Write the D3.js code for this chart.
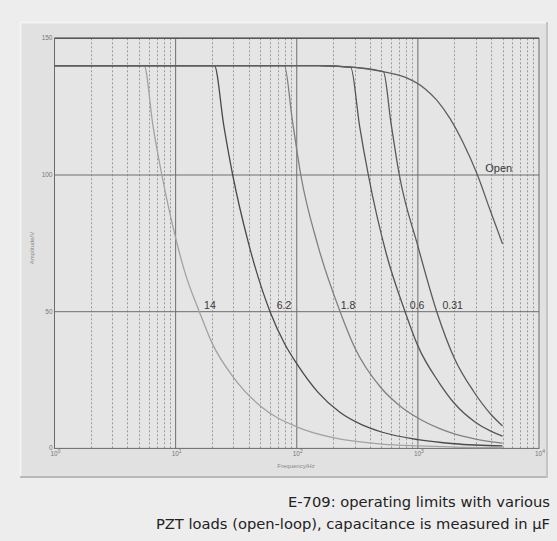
<!DOCTYPE html>
<html>
<head>
<meta charset="utf-8">
<script src="https://cdn.jsdelivr.net/npm/d3@7"></script>
<style>
  html, body { margin:0; padding:0; background:#ededed; }
  svg { display:block; font-family:"Liberation Sans", Arial, sans-serif; }
</style>
</head>
<body>
<script>
// curves: [frequency Hz, amplitude V]
var curveNames = ["14", "6.2", "1.8", "0.6", "0.31", "Open"];
var load14 = [[1,140],[5.5,140],[6.5,118],[7.7,100],[10,77],[12,64],[15.7,50],[20,38.5],[30,26],[50,15.5],[100,7.9],[200,3.9],[500,1.6],[1000,0.9],[2000,0.5],[5000,0.3]];
var load62 = [[1,140],[20.9,140],[25,118],[29.6,100],[40,75],[60.2,50],[80,38],[100,31],[150,20.5],[227,13.2],[350,8.5],[500,6],[1000,3.2],[2000,1.7],[5000,0.9]];
var load18 = [[1,140],[79,140],[92,120],[108,100],[150,74],[228,50],[300,37],[500,22],[700,15.8],[1000,11.1],[1500,7.3],[2000,5.3],[3000,3.4],[5000,1.9]];
var load06 = [[1,140],[150,140],[279,139.4],[330,118],[390,100],[550,71],[784,50],[1000,37.5],[1500,24],[2000,16.5],[3000,9.5],[4000,6.3],[5000,4.5]];
var load031 = [[1,140],[150,140],[300,139.4],[519,137.8],[600,119],[703,100],[1000,74],[1432,50],[2000,33],[2870,21],[4000,12.5],[5000,8.2]];
var loadOpen = [[1,140],[150,140],[300,139.4],[516,137.8],[800,135.6],[1150,131.5],[1432,127.4],[1845,120.6],[2376,111.6],[3065,100.6],[3945,87.2],[5000,74.8]];
var curveData = [load14, load62, load18, load06, load031, loadOpen];
var curveColors = ["#a2a2a2", "#4a4a4a", "#808080", "#555555", "#5a5a5a", "#5e5e5e"];
// label anchor positions [frequency, amplitude]
var labelPos = [[19.2,51], [78.5,51], [265,51], [985,51], [1940,51], [3600,101]];
var yTicks = [0, 50, 100, 150];
var xDecades = [0, 1, 2, 3, 4];

var W = 557, H = 541;
var svg = d3.select("body").append("svg").attr("width", W).attr("height", H);

// panel with bevel
svg.append("rect").attr("x", 20).attr("y", 22).attr("width", 528).attr("height", 456)
  .style("fill", "#e1e1e1");
svg.append("line").attr("x1", 20).attr("x2", 548).attr("y1", 22.5).attr("y2", 22.5).style("stroke", "#f4f4f4").style("stroke-width", 2);
svg.append("line").attr("x1", 20.5).attr("x2", 20.5).attr("y1", 22).attr("y2", 478).style("stroke", "#f4f4f4").style("stroke-width", 2);
svg.append("line").attr("x1", 20).attr("x2", 548).attr("y1", 477).attr("y2", 477).style("stroke", "#b8b8b8").style("stroke-width", 2);
svg.append("line").attr("x1", 547).attr("x2", 547).attr("y1", 22).attr("y2", 478).style("stroke", "#c4c4c4").style("stroke-width", 2);

var x = d3.scaleLog().domain([1, 1e4]).range([54.5, 539]);
var y = d3.scaleLinear().domain([0, 150]).range([448.4, 38.3]);

var plot = svg.append("g");
plot.append("rect").attr("x", x(1)).attr("y", y(150)).attr("width", x(1e4) - x(1)).attr("height", y(0) - y(150))
  .style("fill", "#e5e5e5");

// minor vertical grid (dotted)
var minors = [];
for (var d = 0; d < 4; d++) {
  for (var k = 2; k < 10; k++) minors.push(k * Math.pow(10, d));
}
plot.selectAll("line.minor").data(minors).enter().append("line")
  .attr("class", "minor")
  .attr("x1", function(v){ return Math.round(x(v)) + 0.5; })
  .attr("x2", function(v){ return Math.round(x(v)) + 0.5; })
  .attr("y1", y(150)).attr("y2", y(0))
  .style("stroke", "#999").style("stroke-width", 1).style("stroke-dasharray", "2,2");

// major grid
plot.selectAll("line.major").data([10, 100, 1000]).enter().append("line")
  .attr("x1", function(v){ return x(v); }).attr("x2", function(v){ return x(v); })
  .attr("y1", y(150)).attr("y2", y(0))
  .style("stroke", "#6e6e6e").style("stroke-width", 1);
plot.selectAll("line.hgrid").data([50, 100]).enter().append("line")
  .attr("x1", x(1)).attr("x2", x(1e4))
  .attr("y1", function(v){ return y(v); }).attr("y2", function(v){ return y(v); })
  .style("stroke", "#6e6e6e").style("stroke-width", 1);

// frame
plot.append("rect").attr("x", x(1)).attr("y", y(150)).attr("width", x(1e4) - x(1)).attr("height", y(0) - y(150))
  .style("fill", "none").style("stroke", "#6a6a6a").style("stroke-width", 1);
plot.append("line").attr("x1", x(1)).attr("x2", x(1e4)).attr("y1", y(150)).attr("y2", y(150))
  .style("stroke", "#555").style("stroke-width", 1.5);

// curves
var line = d3.line()
  .x(function(p){ return x(p[0]); })
  .y(function(p){ return y(p[1]); })
  .curve(d3.curveMonotoneX);
for (var i = 0; i < curveData.length; i++) {
  plot.append("path").attr("d", line(curveData[i]))
    .style("fill", "none").style("stroke", curveColors[i]).style("stroke-width", 1.3);
}

// curve labels
for (var i = 0; i < curveNames.length; i++) {
  plot.append("text")
    .attr("x", x(labelPos[i][0])).attr("y", y(labelPos[i][1]))
    .attr("text-anchor", i == 5 ? "start" : "middle")
    .style("font-size", i == 5 ? "11px" : "10.5px").style("fill", "#383838")
    .text(curveNames[i]);
}

// y tick labels
svg.selectAll("text.ytick").data(yTicks).enter().append("text")
  .attr("x", x(1) - 2).attr("y", function(v){ return y(v) + 2; })
  .attr("text-anchor", "end").style("font-size", "6.5px").style("fill", "#777")
  .text(function(v){ return v; });

// x tick labels 10^n
var xl = svg.selectAll("text.xtick").data(xDecades).enter().append("text")
  .attr("x", function(n){ return x(Math.pow(10, n)) - 4; }).attr("y", 456)
  .style("font-size", "6.5px").style("fill", "#777");
xl.append("tspan").text("10");
xl.append("tspan").attr("dy", -3).style("font-size", "5px").text(function(n){ return n; });

// axis titles
svg.append("text").attr("x", 296).attr("y", 468).attr("text-anchor", "middle")
  .style("font-size", "6px").style("fill", "#888").text("Frequency/Hz");
svg.append("text").attr("transform", "translate(34,248) rotate(-90)").attr("text-anchor", "middle")
  .style("font-size", "6px").style("fill", "#888").text("Amplitude/V");

// caption
svg.append("text").attr("x", 550).attr("y", 507).attr("text-anchor", "end")
  .style("font-family", "'DejaVu Sans', sans-serif")
  .style("font-size", "14.7px").style("fill", "#222").text("E-709: operating limits with various");
svg.append("text").attr("x", 550).attr("y", 529).attr("text-anchor", "end")
  .style("font-family", "'DejaVu Sans', sans-serif")
  .style("font-size", "14.7px").style("fill", "#222").text("PZT loads (open-loop), capacitance is measured in µF");
</script>
</body>
</html>
